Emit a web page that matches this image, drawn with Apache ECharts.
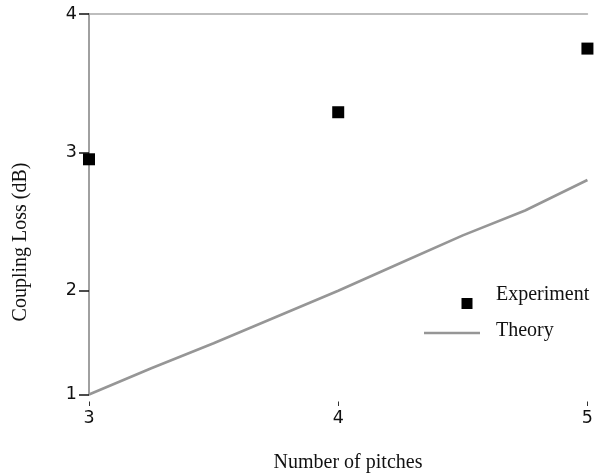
<!DOCTYPE html>
<html>
<head>
<meta charset="utf-8">
<title>Coupling loss vs number of pitches</title>
<script src="https://cdn.jsdelivr.net/npm/echarts@6/dist/echarts.min.js"></script>
<style>
  html, body { margin: 0; padding: 0; background: #fff; }
  #chart { width: 596px; height: 475px; }
</style>
</head>
<body>
<div id="chart"></div>
<script>
// Measured coupling loss at each pitch count
const pitches = [3, 4, 5];
const experimentLoss = [2.95, 3.29, 3.75];

// Theoretical coupling loss curve
const theoryPitches = [3, 3.25, 3.5, 3.75, 4, 4.25, 4.5, 4.75, 5];
const theoryLoss = [1.25, 1.44, 1.62, 1.81, 2.0, 2.2, 2.4, 2.58, 2.8];

// Axis ticks (the lowest one is the axis minimum, printed as an integer)
const xTicks = [3, 4, 5];
const yTicks = [1.25, 2, 3, 4];

const serif = '"Liberation Serif", "Times New Roman", serif';
const sans = '"DejaVu Sans", sans-serif';

const chart = echarts.init(document.getElementById('chart'), null, { renderer: 'canvas' });

chart.setOption({
  animation: false,
  backgroundColor: '#fff',
  grid: { left: 89, right: 6, top: 14, bottom: 80.5, containLabel: false },
  xAxis: [
    {
      type: 'value',
      min: xTicks[0],
      max: xTicks[xTicks.length - 1],
      interval: 1,
      offset: 7,
      axisLine: { show: false },
      axisTick: { show: true, length: 4.5, lineStyle: { color: '#333', width: 1 } },
      axisLabel: { margin: 8, color: '#111', fontFamily: sans, fontSize: 17.5 },
      splitLine: { show: false }
    },
    {
      type: 'value',
      position: 'top',
      min: xTicks[0],
      max: xTicks[xTicks.length - 1],
      axisLine: { show: true, onZero: false, lineStyle: { color: '#a8a8a8', width: 1.5 } },
      axisTick: { show: false },
      axisLabel: { show: false },
      splitLine: { show: false }
    }
  ],
  yAxis: {
    type: 'value',
    min: yTicks[0],
    max: yTicks[yTicks.length - 1],
    axisLine: { show: true, onZero: false, lineStyle: { color: '#a0a0a0', width: 2 } },
    axisTick: { show: true, length: 10, customValues: yTicks, lineStyle: { color: '#111', width: 1.5 } },
    axisLabel: {
      margin: 12,
      color: '#111',
      fontFamily: sans,
      fontSize: 17.5,
      customValues: yTicks,
      formatter: v => Number(v).toFixed(0)
    },
    splitLine: { show: false }
  },
  series: [
    {
      name: 'Theory',
      type: 'line',
      data: theoryPitches.map((p, i) => [p, theoryLoss[i]]),
      showSymbol: false,
      smooth: false,
      clip: false,
      lineStyle: { color: '#969696', width: 2.6 },
      z: 2
    },
    {
      name: 'Experiment',
      type: 'scatter',
      data: pitches.map((p, i) => [p, experimentLoss[i]]),
      symbol: 'rect',
      symbolSize: 12,
      clip: false,
      itemStyle: { color: '#000', opacity: 1 },
      z: 3
    }
  ],
  graphic: [
    // axis titles
    {
      type: 'text',
      x: 348, y: 463,
      style: {
        text: 'Number of pitches',
        font: '20px ' + serif,
        fill: '#111',
        textAlign: 'center',
        textVerticalAlign: 'middle'
      }
    },
    {
      type: 'text',
      x: 21, y: 242,
      rotation: Math.PI / 2,
      style: {
        text: 'Coupling Loss (dB)',
        font: '20px ' + serif,
        fill: '#111',
        textAlign: 'center',
        textVerticalAlign: 'middle'
      }
    },
    // legend
    {
      type: 'rect',
      shape: { x: 461.5, y: 298, width: 11, height: 11 },
      style: { fill: '#000' }
    },
    {
      type: 'text',
      x: 496, y: 295,
      style: { text: 'Experiment', font: '20px ' + serif, fill: '#111', textAlign: 'left', textVerticalAlign: 'middle' }
    },
    {
      type: 'line',
      shape: { x1: 424, y1: 333, x2: 480, y2: 333 },
      style: { stroke: '#969696', lineWidth: 2.6 }
    },
    {
      type: 'text',
      x: 496, y: 331,
      style: { text: 'Theory', font: '20px ' + serif, fill: '#111', textAlign: 'left', textVerticalAlign: 'middle' }
    }
  ]
});
</script>
</body>
</html>
